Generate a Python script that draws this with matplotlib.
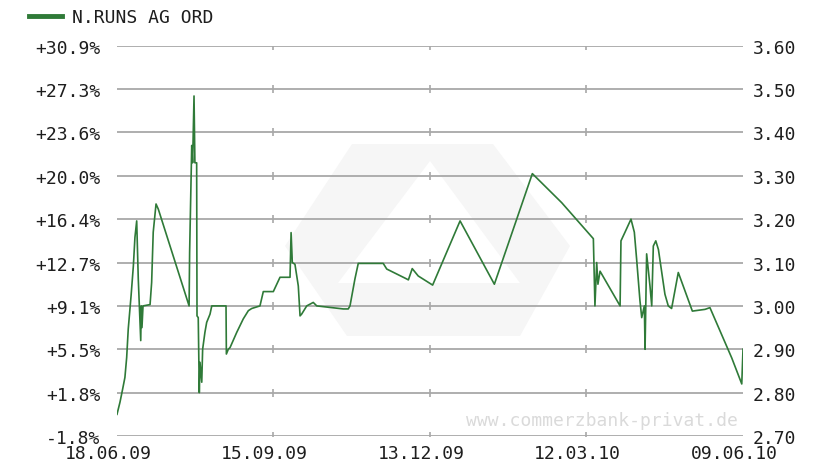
import numpy as np
import pandas as pd
import matplotlib
matplotlib.use("Agg")
import matplotlib.pyplot as plt
from matplotlib.patches import Polygon
from matplotlib.transforms import ScaledTranslation

# N.RUNS AG ORD - one year price chart (price right, change vs. start left)
name = "N.RUNS AG ORD"
start = pd.Timestamp("2009-06-18")
base_price = 2.75

# days after 18.06.09 and price
days = [0.0, 1.7, 3.2, 4.5, 5.5, 6.4, 8.0, 9.3, 10.2, 11.2, 12.1, 13.5, 13.8, 14.2, 14.8,
        18.8, 19.7, 20.6, 22.2, 23.5, 41.0, 41.3, 42.5, 43.0, 43.8, 44.3, 45.3, 45.5,
        46.2, 46.8, 47.2, 48.2, 48.7, 50.0, 51.0, 52.9, 53.9, 62.0, 62.2, 63.3, 64.3,
        68.1, 71.8, 74.7, 76.6, 81.3, 83.2, 88.9, 92.7, 98.4, 99.0, 99.7, 101.2, 103.1,
        104.1, 105.0, 107.9, 111.6, 113.6, 128.7, 131.5, 132.5, 135.3, 137.2, 151.4,
        153.4, 164.8, 165.7, 167.9, 171.3, 179.5, 195.1, 214.6, 236.2, 252.9, 270.9,
        271.8, 272.8, 273.5, 274.7, 286.1, 286.6, 288.9, 292.3, 294.2, 295.5, 297.4,
        298.4, 299.9, 300.3, 301.2, 303.1, 304.1, 305.0, 306.4, 307.9, 311.6, 313.5,
        315.4, 319.2, 327.2, 334.4, 337.2, 349.6, 355.3, 356.0]
price = [2.75, 2.778, 2.808, 2.835, 2.881, 2.947, 3.023, 3.092, 3.158, 3.196, 3.062, 2.92, 3.00, 2.95, 3.00,
         3.003, 3.054, 3.17, 3.235, 3.223, 3.00, 3.123, 3.37, 3.33, 3.484, 3.33, 3.33, 2.977,
         2.973, 2.80, 2.87, 2.824, 2.90, 2.939, 2.962, 2.981, 3.00, 3.00, 2.889, 2.90, 2.904,
         2.939, 2.97, 2.989, 2.994, 3.00, 3.033, 3.033, 3.066, 3.066, 3.169, 3.10, 3.096, 3.046,
         2.977, 2.981, 3.00, 3.008, 3.00, 2.993, 2.993, 3.00, 3.062, 3.098, 3.098,
         3.085, 3.062, 3.06, 3.086, 3.069, 3.048, 3.196, 3.05, 3.305, 3.238, 3.155,
         3.00, 3.10, 3.05, 3.08, 3.00, 3.15, 3.17, 3.20, 3.17, 3.108, 3.012,
         2.973, 3.00, 2.90, 3.12, 3.046, 3.00, 3.138, 3.15, 3.13, 3.027, 3.00,
         2.994, 3.077, 2.988, 2.992, 2.996, 2.88, 2.82, 2.90]

date_ticks = ["18.06.09", "15.09.09", "13.12.09", "12.03.10", "09.06.10"]
price_ticks = [2.70, 2.80, 2.90, 3.00, 3.10, 3.20, 3.30, 3.40, 3.50, 3.60]

line_col = "#2f7a38"
grid_col = "#a8a8a8"
txt_col = "#1e1e1e"
font = "DejaVu Sans Mono"
fsize = 13
W, H = 830, 464

plt.rcParams["font.family"] = font

dates = start + pd.to_timedelta(days, unit="D")
tick_dates = pd.to_datetime(date_ticks, format="%d.%m.%y")

fig = plt.figure(figsize=(W / 100, H / 100), dpi=100)
ax = fig.add_axes([117 / W, 1 - 437 / H, 626 / W, 390.3 / H])

# faint bank logo behind the chart (pixel outline -> figure fraction)
def px(pts):
    return [(x / W, 1 - y / H) for x, y in pts]

hexagon = px([(352, 145), (493, 145), (570, 247), (520, 337), (347, 337), (285, 247)])
inner = px([(430, 162), (338, 284), (520, 284)])
ax.add_patch(Polygon(hexagon, closed=True, transform=fig.transFigure,
                     facecolor="#f6f6f6", edgecolor="none", zorder=0.5))
ax.add_patch(Polygon(inner, closed=True, transform=fig.transFigure,
                     facecolor="white", edgecolor="none", zorder=0.6))

ax.plot(dates, price, color=line_col, lw=1.2, zorder=3, label=name)
ax.set_xlim(tick_dates[0], tick_dates[-1])
ax.set_ylim(price_ticks[0], price_ticks[-1])

for s in ax.spines.values():
    s.set_visible(False)

ax.set_yticks(price_ticks)
ax.set_yticklabels([f"{p:.2f}" for p in price_ticks])
ax.yaxis.tick_right()
ax.set_xticks(tick_dates)
ax.set_xticklabels(date_ticks)
ax.tick_params(axis="y", length=0, pad=7, labelsize=fsize, labelcolor=txt_col)
ax.tick_params(axis="x", length=0, pad=6, labelsize=fsize, labelcolor=txt_col)
ax.grid(axis="y", color=grid_col, lw=1.3, zorder=1)
ax.grid(axis="x", visible=False)

# date labels sit a little left of their tick
shift = ScaledTranslation(-9 / 100, 0, fig.dpi_scale_trans)
for lab in ax.get_xticklabels():
    lab.set_transform(lab.get_transform() + shift)

# little tick marks where the date ticks cross the grid lines
xx, yy = np.meshgrid(tick_dates[1:-1], price_ticks)
ax.scatter(xx.ravel(), yy.ravel(), marker="|", s=30, color=grid_col, lw=1.2, zorder=2)

# change vs. start price on the left
pct = ax.secondary_yaxis("left", functions=(lambda p: (p / base_price - 1) * 100,
                                           lambda c: base_price * (1 + c / 100)))
pct.set_yticks([(p / base_price - 1) * 100 for p in price_ticks])
pct.set_yticklabels([f"{(p / base_price - 1) * 100:+.1f}%" for p in price_ticks])
pct.tick_params(length=0, pad=12, labelsize=fsize, labelcolor=txt_col)
pct.spines["left"].set_visible(False)

fig.text(738 / W, 1 - 421 / H, "www.commerzbank-privat.de", ha="right", va="center",
         fontsize=fsize, color="#dadada", zorder=0)

leg = fig.legend(loc="center left", bbox_to_anchor=(20 / W, 1 - 18 / H), frameon=False,
                 fontsize=fsize, handlelength=1.8, handletextpad=0.6, borderpad=0,
                 labelcolor=txt_col)
for h in leg.legend_handles:
    h.set_linewidth(3.5)

fig.savefig("out.png", dpi=100)
